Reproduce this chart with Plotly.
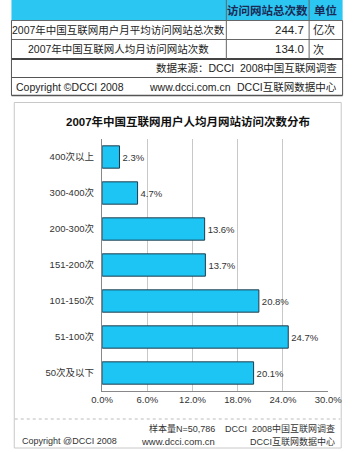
import plotly.graph_objects as go

categories = ["400次以上", "300-400次", "200-300次", "151-200次", "101-150次", "51-100次", "50次及以下"]
values = [2.3, 4.7, 13.6, 13.7, 20.8, 24.7, 20.1]
x_ticks = [0, 6, 12, 18, 24, 30]
x_tick_labels = ["0.0%", "6.0%", "12.0%", "18.0%", "24.0%", "30.0%"]

table_header = ["访问网站总次数", "单位"]
table_rows = [
    ["2007年中国互联网用户月平均访问网站总次数", "244.7", "亿次"],
    ["2007年中国互联网人均月访问网站次数", "134.0", "次"],
]
source_text = "数据来源：DCCI  2008中国互联网调查"
copyright_row = ["Copyright ©DCCI 2008", "www.dcci.com.cn", "DCCI互联网数据中心"]
chart_title = "2007年中国互联网用户人均月网站访问次数分布"
footer_lines = ["样本量N=50,786", "DCCI  2008中国互联网调查", "Copyright @DCCI 2008", "www.dcci.com.cn", "DCCI互联网数据中心"]

W, H = 358, 452
FONT = "Liberation Sans, Noto Sans CJK SC"


def px(x):
    return x / W


def py(y):
    return 1 - y / H


fig = go.Figure()
fig.add_trace(go.Bar(
    y=categories, x=values, orientation="h",
    marker=dict(color="#1DC5F4", line=dict(color="#1F3B4D", width=1)),
    text=[f"{v:.1f}%" for v in values], textposition="outside",
    textfont=dict(size=9.5, color="#333333", family=FONT),
    cliponaxis=False, width=0.62,
))

shapes = []
annotations = []

# ---- top table ----
shapes.append(dict(type="rect", xref="paper", yref="paper", x0=px(0.5), x1=px(356.5), y0=py(0), y1=py(20.5),
                   fillcolor="#2BC6F2", line=dict(width=0), layer="below"))
for yy, col, wd in [(20.5, "#666666", 1), (39.5, "#666666", 1), (59, "#444444", 2), (77.5, "#555555", 1), (95.5, "#555555", 1.5)]:
    shapes.append(dict(type="line", xref="paper", yref="paper", x0=px(0.5), x1=px(356.5), y0=py(yy), y1=py(yy),
                       line=dict(color=col, width=wd)))
for xx in [0.5, 356.5]:
    shapes.append(dict(type="line", xref="paper", yref="paper", x0=px(xx), x1=px(xx), y0=py(20.5), y1=py(95.5),
                       line=dict(color="#555555", width=1)))
for xx in [231.5, 320.5]:
    shapes.append(dict(type="line", xref="paper", yref="paper", x0=px(xx), x1=px(xx), y0=py(0), y1=py(59),
                       line=dict(color="#666666", width=1)))


def ann(text, x, y, xanchor="center", size=11, color="#222222", bold=False):
    if bold:
        text = f"<b>{text}</b>"
    annotations.append(dict(text=text, x=px(x), y=py(y), xref="paper", yref="paper", xanchor=xanchor,
                            yanchor="middle", showarrow=False, font=dict(size=size, color=color, family=FONT)))


ann(table_header[0], 276, 10.5, size=11.5, color="#1B2A55", bold=True)
ann(table_header[1], 338, 10.5, size=11.5, color="#1B2A55", bold=True)
ann(table_rows[0][0], 116, 30, size=10.5)
ann(table_rows[0][1], 317, 30, xanchor="right", size=11.5)
ann(table_rows[0][2], 322, 30, xanchor="left", size=11)
ann(table_rows[1][0], 116, 49, size=10.5)
ann(table_rows[1][1], 317, 49, xanchor="right", size=11.5)
ann(table_rows[1][2], 322, 49, xanchor="left", size=11)
ann(source_text, 353, 68, xanchor="right", size=10.5)
ann(copyright_row[0], 3, 86.5, xanchor="left", size=10.5)
ann(copyright_row[1], 192, 86.5, size=10.5)
ann(copyright_row[2], 353, 86.5, xanchor="right", size=10.5)

# ---- chart frame ----
shapes.append(dict(type="rect", xref="paper", yref="paper", x0=px(3.5), x1=px(355), y0=py(102.5), y1=py(448),
                   line=dict(color="#C8C8C8", width=1), fillcolor="rgba(0,0,0,0)", layer="below"))
shapes.append(dict(type="line", xref="paper", yref="paper", x0=px(4), x1=px(354), y0=py(419), y1=py(419),
                   line=dict(color="#BBBBBB", width=1, dash="dot")))

ann(chart_title, 190, 121, size=11.5, color="#111111", bold=True)
ann(footer_lines[0], 222, 428, xanchor="right", size=9, color="#333333")
ann(footer_lines[1], 351, 428, xanchor="right", size=9, color="#333333")
ann(footer_lines[2], 10, 441, xanchor="left", size=9, color="#333333")
ann(footer_lines[3], 222, 441, xanchor="right", size=9.5, color="#333333")
ann(footer_lines[4], 351, 441, xanchor="right", size=9, color="#333333")

fig.update_layout(
    width=W, height=H,
    margin=dict(l=0, r=0, t=0, b=0),
    paper_bgcolor="white", plot_bgcolor="white",
    showlegend=False,
    bargap=0.38,
    shapes=shapes, annotations=annotations,
    font=dict(family=FONT, size=9, color="#333333"),
    xaxis=dict(domain=[px(98), px(341)], range=[0, 30], tickvals=x_ticks, ticktext=x_tick_labels,
               showgrid=True, gridcolor="#C8C8C8", gridwidth=1, zeroline=False,
               showline=True, linecolor="#888888", linewidth=1, ticks="", ticklen=0,
               tickfont=dict(size=9.5, color="#333333", family=FONT), fixedrange=True),
    yaxis=dict(domain=[py(391), py(139)], categoryorder="array", categoryarray=categories,
               autorange="reversed", showgrid=False, zeroline=False,
               showline=True, linecolor="#888888", linewidth=1, ticks="",
               tickfont=dict(size=9.5, color="#333333", family=FONT), ticksuffix="  ", fixedrange=True),
)

fig.write_html("out.html", config={"displayModeBar": False},
               post_script="document.body.style.margin='0';document.body.style.overflow='hidden';")
